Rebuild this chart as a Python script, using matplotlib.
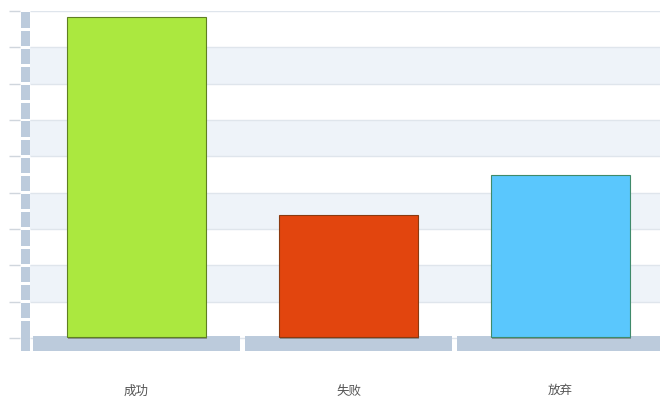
import matplotlib
matplotlib.use("Agg")
import matplotlib.pyplot as plt
from matplotlib.patches import Rectangle

plt.rcParams['font.family'] = ['Noto Sans CJK SC', 'DejaVu Sans']

# chart data
categories = ['成功', '失败', '放弃']
values = [88, 33.5, 44.5]
barColors = ['#abe83f', '#e2450e', '#5ac7fd']
edgeColors = ['#5f7f22', '#8a3a10', '#3f8a6a']
gridTicks = [0, 10, 20, 30, 40, 50, 60, 70, 80, 90]

fig = plt.figure(figsize=(6.6, 4.04), dpi=100)
W, H = 660.0, 404.0
# axes box in pixels: left 20, right 660, top 11, bottom 351
ax = fig.add_axes([20 / W, (H - 351) / H, 640 / W, 340 / H])
ax.set_xlim(-0.5495, 2.469)
ax.set_ylim(-3.6, 90)

# alternating bands and grid lines
for i in range(len(gridTicks) - 1):
    if (len(gridTicks) - 2 - i) % 2 == 1:
        ax.add_patch(Rectangle((-0.5, gridTicks[i]), 3.0, gridTicks[i + 1] - gridTicks[i],
                               facecolor='#eef3f9', edgecolor='none', zorder=0))
ax.hlines(gridTicks, -0.5, 2.469, colors='#dfe5ec', linewidth=1, zorder=1)

# left wall blocks
for k in range(18):
    ax.add_patch(Rectangle((-0.545, k * 5 + 0.4), 0.042, 4.2,
                           facecolor='#bccbdc', edgecolor='none', zorder=2))
# floor blocks
ax.add_patch(Rectangle((-0.545, -3.6), 0.042, 4.0, facecolor='#bccbdc', edgecolor='none', zorder=2))
for i in range(len(categories)):
    ax.add_patch(Rectangle((i - 0.49, -3.6), 0.98, 4.0, facecolor='#bccbdc', edgecolor='none', zorder=2))

# bars with a small shadow
xs = list(range(len(categories)))
ax.bar([x + 0.006 for x in xs], values, width=0.656, bottom=-0.3, color='#6b6b6b', alpha=0.6, zorder=3)
ax.bar(xs, values, width=0.656, bottom=0.3, color=barColors, edgecolor=edgeColors, linewidth=0.8, zorder=4)

for s in ax.spines.values():
    s.set_visible(False)
ax.set_yticks(gridTicks)
ax.set_yticklabels([])
ax.tick_params(axis='y', length=8, color='#d0d6dd', width=1)
ax.set_xticks(xs)
ax.set_xticklabels(categories, fontsize=9, color='#555555')
ax.tick_params(axis='x', length=0, pad=24)

fig.savefig('out.png', dpi=100)
